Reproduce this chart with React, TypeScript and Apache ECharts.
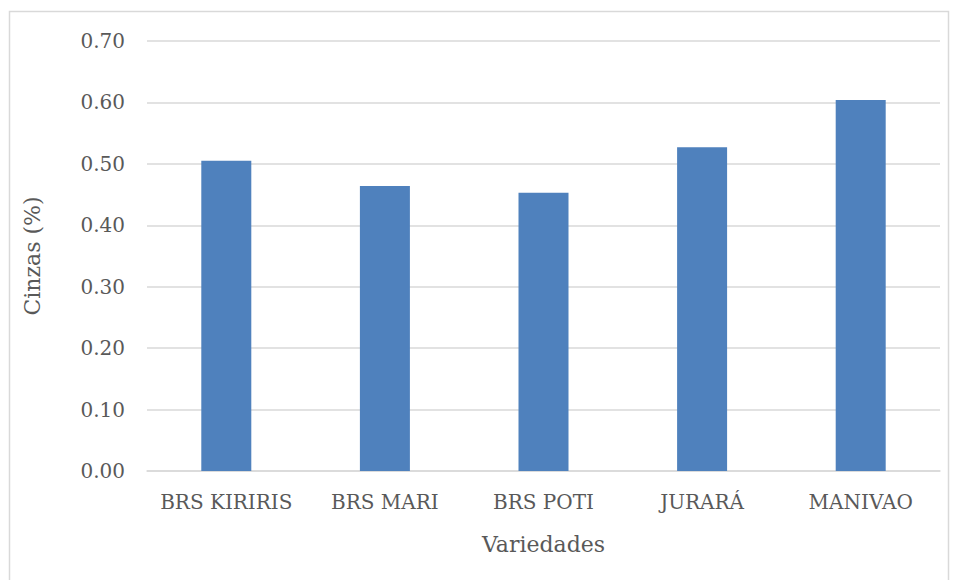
import React, { useEffect, useRef } from "react";
import * as echarts from "echarts";

const categories = ["BRS KIRIRIS", "BRS MARI", "BRS POTI", "JURARÁ", "MANIVAO"];
const cinzas = [0.505, 0.464, 0.453, 0.527, 0.604];
const yTicks = { min: 0, max: 0.7, interval: 0.1 };

const FONT = "DejaVu Serif";
const TXT = "#595959";

export default function App() {
  const ref = useRef<HTMLDivElement>(null);
  useEffect(() => {
    if (!ref.current) return;
    const chart = echarts.init(ref.current, undefined, { renderer: "svg" });
    chart.setOption({
      animation: false,
      backgroundColor: "#ffffff",
      graphic: [
        {
          type: "rect",
          shape: { x: 9.5, y: 11.5, width: 939, height: 590 },
          style: { fill: "none", stroke: "#D9D9D9", lineWidth: 1.5 },
          silent: true,
        },
      ],
      grid: { left: 147, right: 17, top: 41, bottom: 109, containLabel: false },
      xAxis: {
        type: "category",
        data: categories,
        axisLine: { show: true, lineStyle: { color: "#D9D9D9", width: 1.5 } },
        axisTick: { show: false },
        axisLabel: { color: TXT, fontFamily: FONT, fontSize: 20, margin: 21, interval: 0 },
        name: "Variedades",
        nameLocation: "middle",
        nameGap: 62,
        nameTextStyle: { color: TXT, fontFamily: FONT, fontSize: 22 },
      },
      yAxis: {
        type: "value",
        min: yTicks.min,
        max: yTicks.max,
        interval: yTicks.interval,
        axisLine: { show: false },
        axisTick: { show: false },
        splitLine: { lineStyle: { color: "#D9D9D9", width: 1.5 } },
        axisLabel: {
          color: TXT,
          fontFamily: FONT,
          fontSize: 20,
          margin: 22,
          formatter: (v: number) => v.toFixed(2),
        },
        name: "Cinzas (%)",
        nameLocation: "middle",
        nameGap: 104,
        nameTextStyle: { color: TXT, fontFamily: FONT, fontSize: 22 },
      },
      series: [
        {
          type: "bar",
          data: cinzas,
          barWidth: 50,
          itemStyle: { color: "#4F81BD" },
        },
      ],
    });
    return () => chart.dispose();
  }, []);
  return (
    <div
      ref={ref}
      style={{ position: "fixed", left: 0, top: 0, width: 957, height: 580 }}
    />
  );
}
